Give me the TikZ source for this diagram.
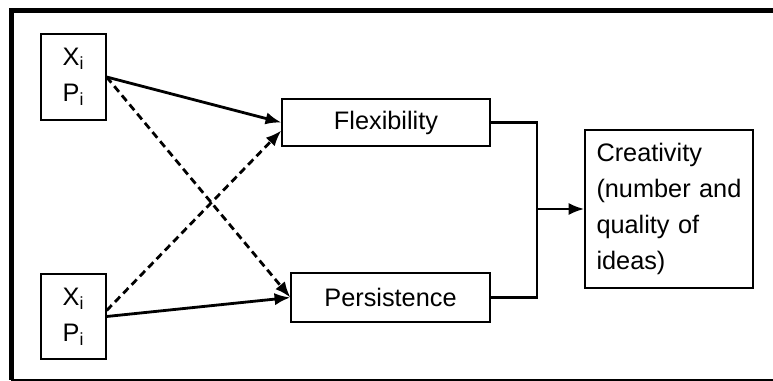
\documentclass[tikz,border=0pt]{standalone}
\usepackage{fontspec}
\setmainfont{Liberation Sans}
\usetikzlibrary{arrows.meta}

\tikzset{
    box/.style={draw, line width=0.7pt, inner sep=0pt, font=\fontsize{14.4}{20.4}\selectfont},
    link/.style={line width=1.6pt, -{Latex[length=9pt,width=7pt]}},
    cross/.style={link, dash pattern=on 4.2pt off 2.6pt},
}

\begin{document}
\begin{tikzpicture}
    \useasboundingbox (0,0) rectangle (15.46,7.62);
    % frame
    \draw [line width=2.8pt] (15.46,7.41) -- (0.23,7.41) -- (0.23,0.02);
    \draw [line width=0.9pt] (0.23,0.02) -- (15.46,0.02);

    \node [box, align=center, minimum width=1.3cm, minimum height=1.72cm] (xp1) at (1.47,6.08) {X\textsubscript{i}\\P\textsubscript{i}};
    \node [box, align=center, minimum width=1.3cm, minimum height=1.7cm] (xp2) at (1.47,1.29) {X\textsubscript{i}\\P\textsubscript{i}};
    \node [box, minimum width=4.16cm, minimum height=0.94cm] (flex) at (7.72,5.17) {Flexibility};
    \node [box, minimum width=3.98cm, minimum height=0.98cm] (pers) at (7.81,1.67) {Persistence};
    \node [box, align=left, text width=2.9cm, inner xsep=0.23cm, minimum height=3.16cm] (creat) at (13.38,3.44) {Creativity\\(number and\\quality of\\ideas)};
    \coordinate (j) at (10.74,3.44);

    \draw [link] (xp1.east) -- (flex.west);
    \draw [cross] (xp1.east) -- (pers.west);
    \draw [link] (xp2.east) -- (pers.west);
    \draw [cross] ([yshift=0.12cm]xp2.east) -- ([yshift=-0.16cm]flex.west);

    \draw [line width=1.6pt] (flex.east) -| (j) |- (pers.east);
    \draw [link] (j) -- (creat.west);
\end{tikzpicture}
\end{document}
